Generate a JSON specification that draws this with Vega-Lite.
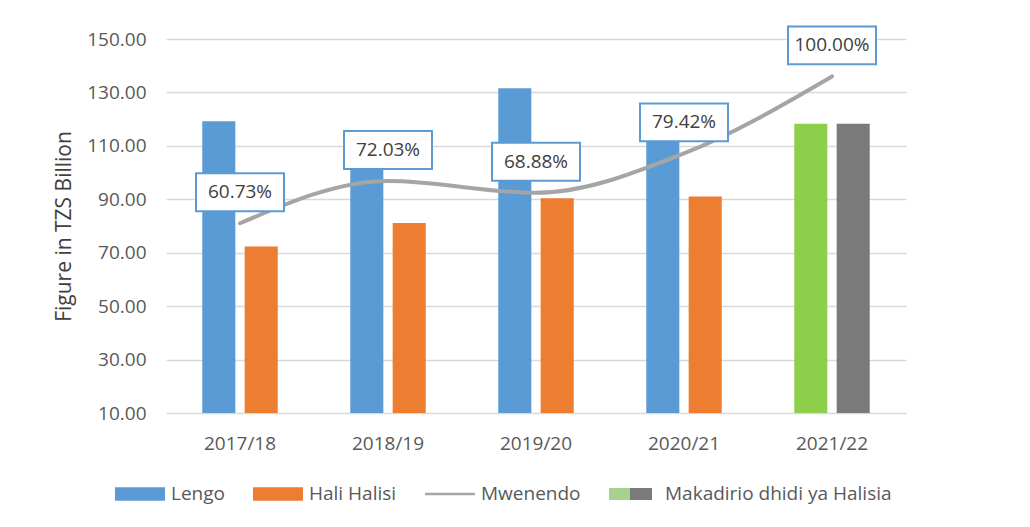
{
  "$schema": "https://vega.github.io/schema/vega-lite/v6.json",
  "autosize": {"type": "none"},
  "width": 740,
  "height": 374,
  "padding": {"left": 166, "top": 39, "right": 124, "bottom": 114},
  "background": "white",
  "config": {
    "font": "Open Sans",
    "view": {"stroke": null},
    "axis": {"labelFont": "Open Sans", "titleFont": "Open Sans", "labelColor": "#595959", "titleColor": "#404040", "titleFontWeight": "normal"}
  },
  "datasets": {
    "bars": [
      {"year": "2017/18", "kind": "Lengo", "legend": "Lengo", "value": 119.2},
      {"year": "2017/18", "kind": "Hali Halisi", "legend": "Hali Halisi", "value": 72.3},
      {"year": "2018/19", "kind": "Lengo", "legend": "Lengo", "value": 108.0},
      {"year": "2018/19", "kind": "Hali Halisi", "legend": "Hali Halisi", "value": 81.1},
      {"year": "2019/20", "kind": "Lengo", "legend": "Lengo", "value": 131.6},
      {"year": "2019/20", "kind": "Hali Halisi", "legend": "Hali Halisi", "value": 90.4},
      {"year": "2020/21", "kind": "Lengo", "legend": "Lengo", "value": 115.0},
      {"year": "2020/21", "kind": "Hali Halisi", "legend": "Hali Halisi", "value": 91.0},
      {"year": "2021/22", "kind": "Lengo", "legend": "Makadirio", "value": 118.3},
      {"year": "2021/22", "kind": "Hali Halisi", "legend": "Halisia", "value": 118.3}
    ],
    "trend": [
      {"year": "2017/18", "pct": 0.6073},
      {"year": "2018/19", "pct": 0.7203},
      {"year": "2019/20", "pct": 0.6888},
      {"year": "2020/21", "pct": 0.7942},
      {"year": "2021/22", "pct": 1.0}
    ]
  },
  "encoding": {
    "x": {
      "field": "year", "type": "nominal", "title": null,
      "scale": {"paddingInner": 0.49, "paddingOuter": 0.245},
      "axis": {"labelAngle": 0, "labelFontSize": 19, "labelPadding": 21, "ticks": false, "domain": false, "grid": false}
    }
  },
  "layer": [
    {
      "data": {"name": "bars"},
      "mark": {"type": "bar"},
      "encoding": {
        "xOffset": {"field": "kind", "type": "nominal", "sort": ["Lengo", "Hali Halisi"], "scale": {"paddingInner": 0.22, "paddingOuter": 0}},
        "y": {
          "field": "value", "type": "quantitative",
          "scale": {"domain": [10, 150], "zero": false, "nice": false},
          "axis": {
            "title": "Figure in TZS Billion", "titleFontSize": 21, "titlePadding": 12,
            "values": [10, 30, 50, 70, 90, 110, 130, 150], "format": ".2f",
            "labelFontSize": 19, "labelPadding": 20, "ticks": false, "domain": false,
            "grid": true, "gridColor": "#d9d9d9", "gridWidth": 1.5
          }
        },
        "y2": {"datum": 10},
        "color": {
          "field": "legend", "type": "nominal",
          "scale": {
            "domain": ["Lengo", "Hali Halisi", "Mwenendo", "Makadirio dhidi ya  Halisia", "Makadirio", "Halisia"],
            "range": ["#5b9bd5", "#ed7d31", "#a5a5a5",
              {"expr": "{gradient: 'linear', x1: 0, y1: 0, x2: 1, y2: 0, stops: [{offset: 0, color: '#a9d18e'}, {offset: 0.5, color: '#a9d18e'}, {offset: 0.5, color: '#7a7a7a'}, {offset: 1, color: '#7a7a7a'}]}"},
              "#8dcf4b", "#7a7a7a"]
          },
          "legend": {
            "title": null,
            "orient": "none",
            "direction": "horizontal",
            "legendX": -51,
            "legendY": 430,
            "padding": 0,
            "values": ["Lengo", "Hali Halisi", "Mwenendo", "Makadirio dhidi ya  Halisia"],
            "labelFontSize": 19,
            "labelFont": "Open Sans",
            "labelColor": "#595959",
            "labelOffset": 6,
            "columnPadding": 28,
            "symbolSize": 2500,
            "symbolStrokeWidth": 0,
            "labelLimit": 400,
            "encode": {
              "symbols": {
                "update": {
                  "shape": {"signal": "datum.value === 'Mwenendo' ? 'M-1,-0.05H1V0.05H-1Z' : (datum.value === 'Makadirio dhidi ya  Halisia' ? 'M-1,-0.24H0.72V0.24H-1Z' : 'M-1,-0.27H1V0.27H-1Z')"},
                  "stroke": {"value": "transparent"},
                  "opacity": {"value": 1}
                }
              }
            }
          }
        }
      }
    },
    {
      "data": {"name": "trend"},
      "encoding": {
        "y": {
          "field": "pct", "type": "quantitative",
          "scale": {"domain": [0.1, 1.1], "zero": false, "nice": false}
        }
      },
      "layer": [
        {
          "mark": {"type": "line", "strokeWidth": 4, "interpolate": "monotone", "strokeCap": "round"},
          "encoding": {
            "color": {"datum": "Mwenendo"},
            "y": {
              "field": "pct", "type": "quantitative",
              "axis": {
                "orient": "right", "title": null, "format": ".2%",
                "values": [0.1, 0.2, 0.3, 0.4, 0.5, 0.6, 0.7, 0.8, 0.9, 1.0, 1.1],
                "labelFontSize": 18, "labelPadding": 21, "ticks": false, "domain": false, "grid": false
              }
            }
          }
        },
        {
          "mark": {
            "type": "point", "filled": true, "fill": "white", "stroke": "#5b9bd5", "strokeWidth": 2, "opacity": 1,
            "shape": "M-1,-0.43H1V0.43H-1Z", "size": 7744, "yOffset": -31
          },
          "encoding": {"y": {"field": "pct", "type": "quantitative", "axis": null}}
        },
        {
          "mark": {"type": "text", "fontSize": 19, "font": "Open Sans", "color": "#404040", "yOffset": -31, "baseline": "middle", "align": "center"},
          "encoding": {
            "y": {"field": "pct", "type": "quantitative", "axis": null},
            "text": {"field": "pct", "type": "quantitative", "format": ".2%"}
          }
        }
      ]
    }
  ],
  "resolve": {"scale": {"y": "independent"}}
}
